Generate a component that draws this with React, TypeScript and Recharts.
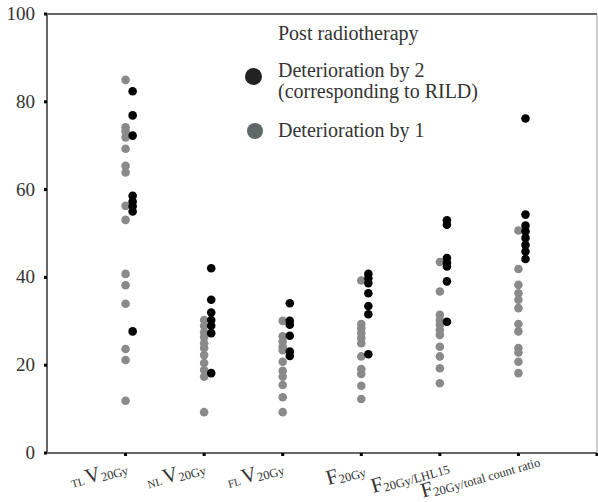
import { ScatterChart, Scatter, XAxis, YAxis, ReferenceLine } from 'recharts';

// category order along the x axis (1..6), tick 7 closes the frame
const categories = ['TL V20Gy', 'NL V20Gy', 'FL V20Gy', 'F20Gy', 'F20Gy/LHL15', 'F20Gy/total count ratio'];
const xTicks = [1, 2, 3, 4, 5, 6, 7];
const yTicks = [0, 20, 40, 60, 80, 100];

// Deterioration by 1 (grey)
const tlGrey = [85.0, 74.2, 73.3, 71.9, 69.3, 65.4, 63.9, 56.3, 53.1, 40.8, 38.2, 34.0, 23.7, 21.2, 11.9];
const nlGrey = [30.3, 29.0, 27.5, 26.4, 25.0, 23.9, 22.3, 20.5, 18.9, 17.4, 9.3];
const flGrey = [30.1, 26.6, 25.4, 24.2, 23.4, 20.8, 18.7, 17.4, 15.5, 12.7, 9.3];
const f20Grey = [39.3, 29.4, 28.4, 27.3, 26.2, 25.0, 22.0, 19.1, 18.0, 15.3, 12.3];
const lhlGrey = [43.5, 36.8, 31.5, 30.3, 29.2, 28.0, 26.9, 24.2, 22.0, 19.3, 15.9];
const totalGrey = [50.7, 41.9, 38.3, 36.4, 34.9, 33.0, 29.4, 27.7, 23.9, 22.9, 20.8, 18.2];

// Deterioration by 2 (black, corresponding to RILD)
const tlBlack = [82.4, 76.9, 72.3, 58.6, 57.3, 56.2, 55.0, 27.7];
const nlBlack = [42.1, 34.9, 32.0, 30.3, 29.0, 27.3, 18.2];
const flBlack = [34.1, 30.1, 29.2, 26.7, 23.1, 22.1];
const f20Black = [40.8, 39.8, 38.7, 36.4, 33.5, 31.6, 22.5];
const lhlBlack = [53.0, 52.0, 44.4, 43.3, 42.5, 39.1, 29.9];
const totalBlack = [76.2, 54.3, 51.8, 50.5, 49.0, 47.4, 45.9, 44.2];

// tick label pieces: [prefix, main, subscript]
const labelParts = [
  ['TL', 'V', '20Gy'],
  ['NL', 'V', '20Gy'],
  ['FL', 'V', '20Gy'],
  ['', 'F', '20Gy'],
  ['', 'F', '20Gy/LHL15'],
  ['', 'F', '20Gy/total count ratio'],
];

const greyValues = [tlGrey, nlGrey, flGrey, f20Grey, lhlGrey, totalGrey];
const blackValues = [tlBlack, nlBlack, flBlack, f20Black, lhlBlack, totalBlack];

const greyPoints = greyValues.flatMap((vals, i) => vals.map(v => ({ x: i + 1, y: v, cat: categories[i] })));
// black dots sit just to the right of the grey column
const blackPoints = blackValues.flatMap((vals, i) => vals.map(v => ({ x: i + 1.09, y: v, cat: categories[i] })));

const FONT = "'Liberation Serif', 'Times New Roman', serif";

// label end offsets relative to the tick
const labelShift = [[3, 14], [2, 14], [2, 14], [5, 16], [10, 13], [22, 6]];

const XTick = (props: any) => {
  const { x, y, payload } = props;
  const i = Math.round(payload.value) - 1;
  const parts = labelParts[i];
  if (!parts) return null;
  return (
    <g transform={`translate(${x + labelShift[i][0]},${y + labelShift[i][1]}) rotate(-16)`}>
      <text textAnchor="end" fill="#333" style={{ fontFamily: FONT }}>
        {parts[0] && <tspan fontSize={11}>{parts[0]}</tspan>}
        <tspan fontSize={21} dx={parts[0] ? 2 : 0}>{parts[1]}</tspan>
        <tspan fontSize={12.5} dy={2}>{parts[2]}</tspan>
      </text>
    </g>
  );
};

const YTick = (props: any) => {
  const { x, y, payload } = props;
  return (
    <text x={x} y={y} dy={6} textAnchor="end" fill="#333" fontSize={19} style={{ fontFamily: FONT }}>
      {payload.value}
    </text>
  );
};

const GreyDot = (p: any) => <circle cx={p.cx} cy={p.cy} r={4.3} fill="#8a8a8a" />;
const BlackDot = (p: any) => <circle cx={p.cx} cy={p.cy} r={4.3} fill="#000" />;

const legendText = { position: 'absolute' as const, left: 278, fontFamily: FONT, fontSize: 20, lineHeight: '21px', color: '#333', whiteSpace: 'nowrap' as const };

export default function App() {
  return (
    <div style={{ position: 'absolute', left: 0, top: 0, width: 598, height: 502, background: '#fff' }}>
      <ScatterChart width={598} height={502} margin={{ top: 14, right: 1, left: 0, bottom: 0 }}>
        <XAxis
          type="number"
          dataKey="x"
          domain={[0, 7]}
          ticks={xTicks}
          height={49}
          axisLine={{ stroke: '#666', strokeWidth: 2 }}
          tickLine={{ stroke: '#000', strokeWidth: 3 }}
          tickSize={3}
          tick={<XTick />}
          interval={0}
        />
        <YAxis
          type="number"
          dataKey="y"
          domain={[0, 100]}
          ticks={yTicks}
          width={47}
          axisLine={{ stroke: '#666', strokeWidth: 2 }}
          tickLine={{ stroke: '#000', strokeWidth: 3 }}
          tickSize={3}
          tickMargin={9}
          tick={<YTick />}
          interval={0}
        />
        <ReferenceLine y={100} stroke="#666" strokeWidth={2} />
        <ReferenceLine x={7} stroke="#999" strokeWidth={1} />
        <Scatter data={greyPoints} shape={<GreyDot />} isAnimationActive={false} />
        <Scatter data={blackPoints} shape={<BlackDot />} isAnimationActive={false} />
      </ScatterChart>

      <div style={{ ...legendText, top: 23 }}>Post radiotherapy</div>
      <div style={{ position: 'absolute', left: 245, top: 68, width: 17, height: 17, borderRadius: '50%', background: '#222' }} />
      <div style={{ ...legendText, top: 60 }}>
        Deterioration by 2<br />(corresponding to RILD)
      </div>
      <div style={{ position: 'absolute', left: 247, top: 123, width: 16, height: 16, borderRadius: '50%', background: '#5f6769' }} />
      <div style={{ ...legendText, top: 120 }}>Deterioration by 1</div>
    </div>
  );
}
